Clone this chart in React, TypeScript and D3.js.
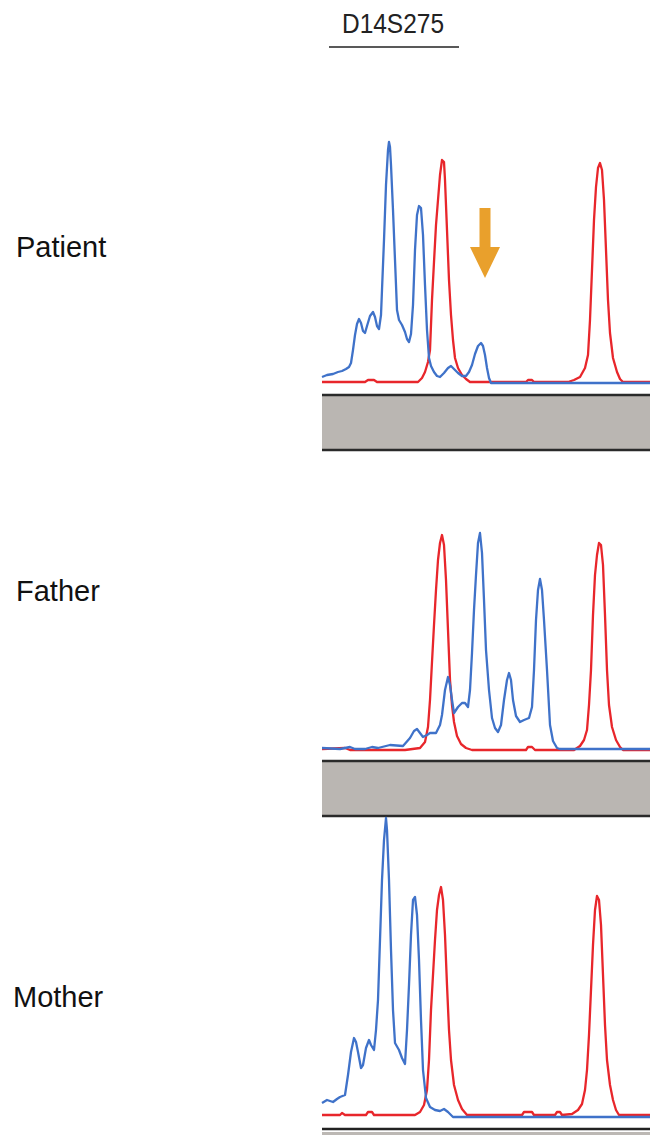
import React from "react";
import * as d3 from "d3";

// electropherogram traces for marker D14S275, [scan, RFU]
const patientBlue: [number, number][] = [
  [0, 2.5], [2.5, 3.5], [5.5, 4], [8, 5], [10, 5.5], [12, 6.5], [13.5, 7.5], [14.5, 9.5],
  [15.5, 16], [16.5, 23.5], [17.5, 29], [18.5, 31.5], [19.5, 29.5], [20.5, 25.5], [21.5, 24.5],
  [22.5, 28], [24, 33], [25.5, 35], [26.5, 32.5], [27.5, 28], [28.5, 26.5], [29.5, 33.5],
  [30, 46], [31, 71], [32, 98.5], [33, 116], [33.5, 120], [34, 117.5], [34.5, 108.5],
  [35.5, 86], [36.5, 61], [37.5, 36], [38.5, 31], [40, 28.5], [41.5, 25], [42.5, 21.5],
  [43.5, 20], [44.5, 24], [45.5, 38.5], [46.5, 66], [47.5, 83.5], [48.5, 88], [49.5, 87],
  [50.5, 73.5], [51.5, 48.5], [52.5, 26], [53.5, 12], [54.5, 8], [56, 5], [57.5, 3], [59, 2.5],
  [61, 4.5], [63, 7], [64.5, 8], [66, 6.5], [68, 4.5], [70, 3], [72, 3], [73.5, 5], [75, 8.5],
  [76.5, 14], [78, 18], [79.5, 19.5], [80.5, 18], [81.5, 13.5], [82.5, 7], [83.5, 2],
  [84.5, -0.5], [164, -0.5],
];

const patientRed: [number, number][] = [
  [0, 0], [21.5, 0], [23, 1], [26, 1], [27.5, 0], [48, 0], [50, 2], [51.5, 5], [53, 10],
  [54, 16], [55, 41], [56, 60], [57, 78.5], [58, 91], [59, 103.5], [60, 111], [61, 110],
  [61.5, 101], [62.5, 76], [63.5, 51], [64.5, 33.5], [65.5, 21], [66.5, 12], [68, 7],
  [70, 3.5], [72, 1.5], [74, 0], [102, 0], [103, 1], [105, 1], [106, 0], [123, 0], [126, 1],
  [129, 2.5], [131.5, 7], [133, 13.5], [134, 31], [135, 56], [136, 81], [137, 97.5],
  [138, 107], [139, 109.5], [140, 106], [141, 91], [142, 66], [143, 41], [144, 24.5],
  [145.5, 12], [147.5, 5], [149, 1.5], [150.5, 0], [164, 0],
];

const fatherBlue: [number, number][] = [
  [0, 1], [9, 0.5], [14, 1.5], [16.5, 0.5], [21.5, 0.5], [25, 1.5], [28, 1], [34, 2.5],
  [40.5, 2], [44, 6], [46, 9.5], [47.5, 10.5], [49, 8.5], [50.5, 6.5], [52.5, 7.5], [54, 8.5],
  [57, 8.5], [59, 12.5], [60, 17.5], [61.5, 30], [63, 36.5], [64, 32.5], [65, 25], [66, 18.5],
  [68, 21.5], [70, 23.5], [71.5, 23.5], [73, 21.5], [74, 30], [75, 48.5], [76, 70], [77, 87.5],
  [78, 103.5], [79, 108.5], [80, 98.5], [81, 75], [82, 50], [83.5, 30], [85, 16], [86.5, 11],
  [88, 9], [89.5, 12.5], [91, 25], [92.5, 35], [93.5, 38.5], [94.5, 35], [95.5, 25], [97, 17],
  [99, 14], [101, 15], [103.5, 16], [105, 21.5], [106, 40], [107, 65], [108, 80], [109, 85.5],
  [110, 80], [111, 65], [112.5, 40], [114, 12.5], [115.5, 4.5], [117.5, 1], [119, 0.5],
  [164, 0.5],
];

const fatherRed: [number, number][] = [
  [0, 0.5], [11.5, 1], [14, 0], [41.5, 0], [49, 1], [51.5, 4], [53, 11.5], [54, 25], [55, 44],
  [56, 62.5], [57, 80], [58, 95], [59, 103.5], [60, 107.5], [61, 102.5], [62, 85], [63, 60],
  [64, 35], [65, 22.5], [66, 14], [67.5, 7], [69.5, 3], [72, 1], [75, 0], [102, 0], [103, 1.5],
  [105, 1.5], [106.5, 0], [126, 0], [129, 2], [131, 5], [132.5, 10], [133.5, 22.5], [134.5, 40],
  [135.5, 67.5], [136.5, 87.5], [137.5, 97.5], [138.5, 103.5], [139.5, 102.5], [140.5, 92.5],
  [141.5, 67.5], [142.5, 40], [143.5, 22.5], [145, 11.5], [147, 5], [149, 1.5], [150.5, 0],
  [164, 0],
];

const motherBlue: [number, number][] = [
  [0, 6.5], [2.5, 8], [5.5, 7], [7.5, 8.5], [9, 9.5], [11.5, 10.5], [13, 20.5], [14.5, 32],
  [16, 39], [17, 37], [18, 32], [19.5, 24], [20.5, 25.5], [22, 34], [23.5, 38], [24.5, 35.5],
  [26, 33], [27, 43], [28, 58], [29, 88], [30, 118], [31, 138], [32, 149], [32.5, 143],
  [33.5, 118], [34.5, 83], [35.5, 53], [36.5, 36.5], [38.5, 33], [40, 29], [41.5, 26],
  [42.5, 43], [43.5, 65.5], [44.5, 90.5], [45.5, 108], [46.5, 109.5], [47.5, 100.5], [48.5, 78],
  [49.5, 48], [50.5, 23], [52, 9], [54, 4.5], [56.5, 3], [59, 2.5], [61, 3.5], [63, 2],
  [65.5, -0.5], [164, -0.5],
];

const motherRed: [number, number][] = [
  [0, 0.5], [9, 0.5], [10, 1.5], [11.5, 0.5], [22, 0.5], [23, 2], [25, 2], [26, 0.5],
  [46.5, 0.5], [49, 2], [51, 5.5], [52.5, 13], [53.5, 28], [54.5, 53], [55.5, 70.5], [56.5, 88],
  [57.5, 103], [58.5, 110.5], [59.5, 114.5], [60.5, 108], [61.5, 90.5], [62.5, 65.5],
  [63.5, 43], [64.5, 28], [66, 15.5], [68, 8], [70, 3.5], [72.5, 0.5], [100, 0.5], [101, 2],
  [105, 2], [106, 0.5], [116.5, 0.5], [117.5, 2], [119, 2], [120, 0.5], [125, 1], [128, 3],
  [130, 6], [131.5, 13], [132.5, 23], [133.5, 40.5], [134.5, 63], [135.5, 85.5], [136.5, 103],
  [137.5, 110], [138.5, 108], [139.5, 95.5], [140.5, 70.5], [141.5, 45.5], [142.5, 28],
  [144, 15.5], [145.5, 8], [147, 3], [148.5, 0.5], [164, 0.5],
];

const samples = ["Patient", "Father", "Mother"];
const markerName = "D14S275";
// orange arrow over the missing paternal allele (patient panel), [scan, RFU top, RFU tip]
const arrowMark = { scan: 81.5, top: 87, tip: 52 };

const W = 660;
const H = 1146;
const BLUE = "#3f72c9";
const RED = "#e8262b";

const panels = [
  { label: samples[0], blue: patientBlue, red: patientRed, base: 382, labelY: 257, labelX: 16, bar: [395, 450] },
  { label: samples[1], blue: fatherBlue, red: fatherRed, base: 750, labelY: 601, labelX: 16, bar: [761, 816] },
  { label: samples[2], blue: motherBlue, red: motherRed, base: 1116, labelY: 1007, labelX: 13, bar: [1129, 1136] },
];

const x = d3.scaleLinear().domain([0, 164]).range([322, 650]);

const App = () => {
  return (
    <svg
      width={W}
      height={H}
      style={{ position: "absolute", left: 0, top: 0, background: "#fff" }}
      fontFamily="'Liberation Sans', Arial, sans-serif"
    >
      <text x={393} y={33} fontSize={28} textAnchor="middle" fill="#222" textLength={102} lengthAdjust="spacingAndGlyphs">
        {markerName}
      </text>
      <line x1={329} x2={459} y1={47} y2={47} stroke="#222" strokeWidth={1.5} />

      {panels.map((p, i) => {
        const y = d3.scaleLinear().domain([0, 120]).range([p.base, p.base - 240]);
        const line = d3
          .line<[number, number]>()
          .x((d) => x(d[0]))
          .y((d) => y(d[1]));
        const [b0, b1] = p.bar;
        const last = i === panels.length - 1;
        return (
          <g key={p.label}>
            <text x={p.labelX} y={p.labelY} fontSize={29} fill="#111">
              {p.label}
            </text>
            {last ? (
              <g>
                <rect x={322} y={b0 + 3} width={328} height={3} fill="#bcb8b4" />
                <line x1={322} x2={650} y1={b0} y2={b0} stroke="#222" strokeWidth={2.5} />
              </g>
            ) : (
              <g>
                <rect x={322} y={b0} width={328} height={b1 - b0} fill="#bab6b2" />
                <line x1={322} x2={650} y1={b0} y2={b0} stroke="#2a2a2a" strokeWidth={2.5} />
                <line x1={322} x2={650} y1={b1} y2={b1} stroke="#2a2a2a" strokeWidth={2.5} />
              </g>
            )}
            <path d={line(p.red) || ""} fill="none" stroke={RED} strokeWidth={2.3} strokeLinejoin="round" />
            <path d={line(p.blue) || ""} fill="none" stroke={BLUE} strokeWidth={2.3} strokeLinejoin="round" />
            {i === 0 &&
              (() => {
                const ax = x(arrowMark.scan);
                const top = y(arrowMark.top);
                const tip = y(arrowMark.tip);
                const headTop = tip - 31;
                const d = [
                  [ax - 5.5, top],
                  [ax + 5.5, top],
                  [ax + 5.5, headTop],
                  [ax + 15, headTop],
                  [ax, tip],
                  [ax - 15, headTop],
                  [ax - 5.5, headTop],
                ]
                  .map((pt, k) => `${k ? "L" : "M"}${pt[0]},${pt[1]}`)
                  .join("") + "Z";
                return <path d={d} fill="#e9a02c" />;
              })()}
          </g>
        );
      })}
    </svg>
  );
};

export default App;
